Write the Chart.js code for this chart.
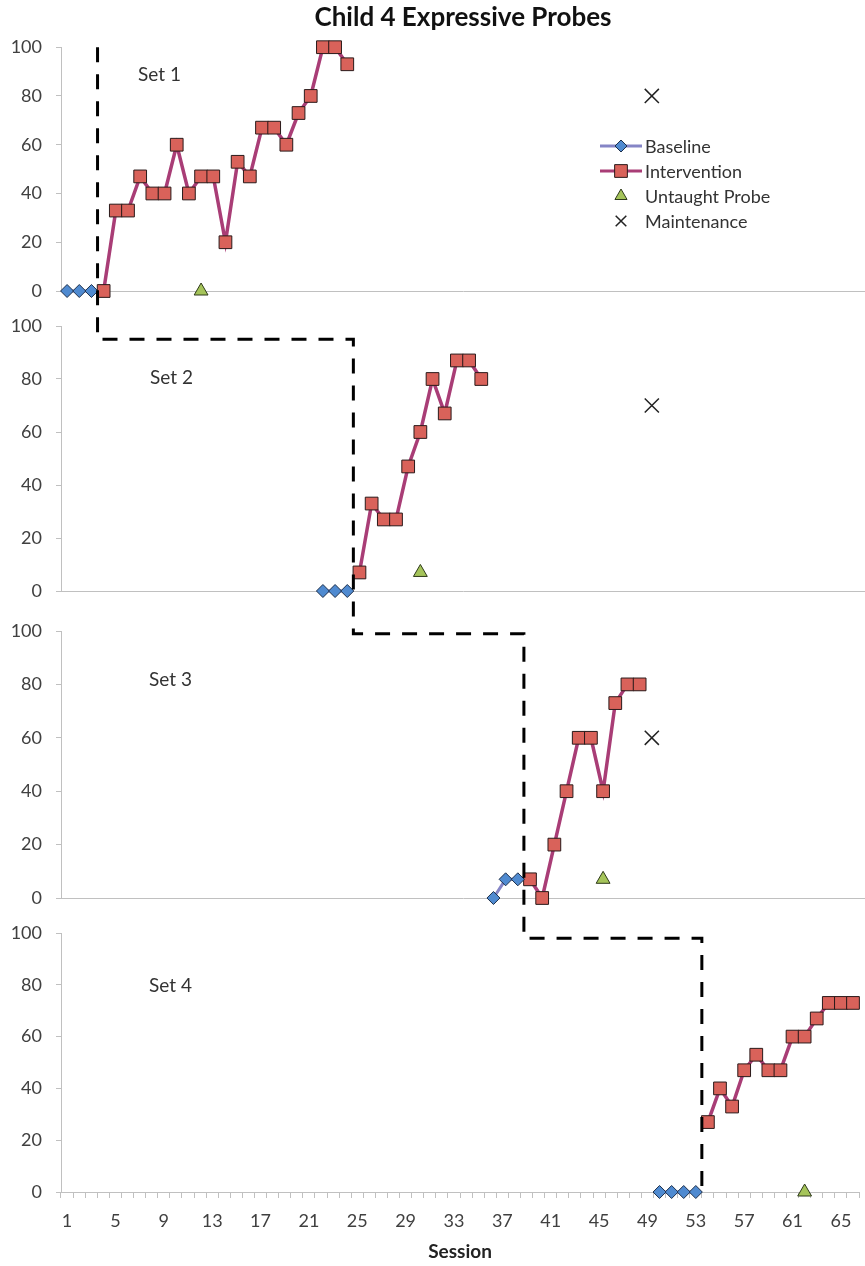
<!DOCTYPE html>
<html>
<head>
<meta charset="utf-8">
<title>Child 4 Expressive Probes</title>
<script src="https://cdn.jsdelivr.net/npm/chart.js@4.4.1/dist/chart.umd.min.js"></script>
<style>
  html, body { margin: 0; padding: 0; background: #fff; }
  #wrap { position: relative; width: 865px; height: 1266px; }
  #wrap canvas { position: absolute; left: 0; }
</style>
</head>
<body>
<div id="wrap">
  <canvas id="set1" width="865" height="310" style="top:0px"></canvas>
  <canvas id="set2" width="865" height="300" style="top:310px"></canvas>
  <canvas id="set3" width="865" height="300" style="top:610px"></canvas>
  <canvas id="set4" width="865" height="356" style="top:910px"></canvas>
  <canvas id="phase" width="865" height="1266" style="top:0px; pointer-events:none"></canvas>
</div>
<script>
// Sessions 1..66 on the x axis, a label every 4th session
const sessions = Array.from({ length: 66 }, (_, i) => String(i + 1));
const xTickLabels = ["1", "5", "9", "13", "17", "21", "25", "29", "33", "37", "41", "45", "49", "53", "57", "61", "65"];
const yTicks = [0, 20, 40, 60, 80, 100];

// Set 1
const set1BaselineSessions = [1, 2, 3];
const set1Baseline = [0, 0, 0];
const set1InterventionSessions = [4, 5, 6, 7, 8, 9, 10, 11, 12, 13, 14, 15, 16, 17, 18, 19, 20, 21, 22, 23, 24];
const set1Intervention = [0, 33, 33, 47, 40, 40, 60, 40, 47, 47, 20, 53, 47, 67, 67, 60, 73, 80, 100, 100, 93];
const set1ProbeSessions = [12];
const set1Probe = [0];
const set1MaintSessions = [49];
const set1Maint = [80];

// Set 2
const set2BaselineSessions = [22, 23, 24];
const set2Baseline = [0, 0, 0];
const set2InterventionSessions = [25, 26, 27, 28, 29, 30, 31, 32, 33, 34, 35];
const set2Intervention = [7, 33, 27, 27, 47, 60, 80, 67, 87, 87, 80];
const set2ProbeSessions = [30];
const set2Probe = [7];
const set2MaintSessions = [49];
const set2Maint = [70];

// Set 3
const set3BaselineSessions = [36, 37, 38];
const set3Baseline = [0, 7, 7];
const set3InterventionSessions = [39, 40, 41, 42, 43, 44, 45, 46, 47, 48];
const set3Intervention = [7, 0, 20, 40, 60, 60, 40, 73, 80, 80];
const set3ProbeSessions = [45];
const set3Probe = [7];
const set3MaintSessions = [49];
const set3Maint = [60];

// Set 4
const set4BaselineSessions = [50, 51, 52, 53];
const set4Baseline = [0, 0, 0, 0];
const set4InterventionSessions = [54, 55, 56, 57, 58, 59, 60, 61, 62, 63, 64, 65, 66];
const set4Intervention = [27, 40, 33, 47, 53, 47, 47, 60, 60, 67, 73, 73, 73];
const set4ProbeSessions = [62];
const set4Probe = [0];
const set4MaintSessions = [];
const set4Maint = [];

// phase change after these sessions, and the level of each step in the next panel
const phaseChangeAfter = [3, 24, 38, 53];
const phaseStepLevels = [95, 99, 98];

Chart.defaults.font.family = "Lato, 'Open Sans', sans-serif";
Chart.defaults.color = "#404040";

const styles = {
  baseline: { label: "Baseline", borderColor: "#8585c6", borderWidth: 3, pointStyle: "rectRot", pointRadius: 6.5,
    pointBackgroundColor: "#4f8ad0", pointBorderColor: "#1d2f4a", pointBorderWidth: 1 },
  intervention: { label: "Intervention", borderColor: "#a93d76", borderWidth: 3.5, pointStyle: "rect", pointRadius: 9,
    pointBackgroundColor: "#d9625a", pointBorderColor: "#2a1a1a", pointBorderWidth: 1 },
  probe: { label: "Untaught Probe", showLine: false, pointStyle: "triangle", pointRadius: 8,
    pointBackgroundColor: "#a5c45a", pointBorderColor: "#2e3a1a", pointBorderWidth: 1 },
  maint: { label: "Maintenance", showLine: false, pointStyle: "crossRot", pointRadius: 10,
    pointBorderColor: "#222", pointBorderWidth: 1.5 }
};

function pts(s, v) {
  return s.map((session, i) => ({ x: String(session), y: v[i] }));
}

// text label "Set n" inside each panel
const setLabelPlugin = {
  id: "setLabel",
  afterDraw(chart, args, opts) {
    const ctx = chart.ctx;
    ctx.save();
    ctx.font = "19px Lato";
    ctx.fillStyle = "#333";
    ctx.textBaseline = "middle";
    ctx.fillText(opts.text, opts.x, opts.y);
    ctx.restore();
  }
};

// legend drawn in the top panel like the original
const legendPlugin = {
  id: "insideLegend",
  afterDraw(chart, args, opts) {
    if (!opts.show) return;
    const ctx = chart.ctx;
    const rows = [
      { st: styles.baseline, line: true, r: 6 },
      { st: styles.intervention, line: true, r: 9 },
      { st: styles.probe, line: false, r: 7 },
      { st: styles.maint, line: false, r: 7.5 }
    ];
    ctx.save();
    rows.forEach((row, i) => {
      const y = opts.y + i * opts.step;
      if (row.line) {
        ctx.strokeStyle = row.st.borderColor;
        ctx.lineWidth = 3;
        ctx.beginPath();
        ctx.moveTo(opts.x - 21, y);
        ctx.lineTo(opts.x + 21, y);
        ctx.stroke();
      }
      ctx.fillStyle = row.st.pointBackgroundColor || "transparent";
      ctx.strokeStyle = row.st.pointBorderColor;
      ctx.lineWidth = row.st.pointBorderWidth;
      Chart.helpers.drawPoint(ctx, { pointStyle: row.st.pointStyle, radius: row.r, borderWidth: row.st.pointBorderWidth, rotation: 0 }, opts.x, y);
      ctx.fillStyle = "#333";
      ctx.font = "18px Lato";
      ctx.textBaseline = "middle";
      ctx.fillText(row.st.label, opts.x + 24, y + 1);
    });
    ctx.restore();
  }
};

function buildPanel(id, d, o) {
  const datasets = [
    Object.assign({ data: pts(d.bs, d.b), clip: false }, styles.baseline),
    Object.assign({ data: pts(d.is, d.i), clip: false }, styles.intervention),
    Object.assign({ data: pts(d.ps, d.p), clip: false }, styles.probe),
    Object.assign({ data: pts(d.ms, d.m), clip: false }, styles.maint)
  ];
  const xAxis = o.bottom ? {
    offset: true,
    ticks: {
      autoSkip: false, maxRotation: 0, padding: 12, font: { size: 18 }, color: "#404040",
      callback(v) { const l = this.getLabelForValue(v); return xTickLabels.includes(l) ? l : ""; }
    },
    grid: { display: true, drawOnChartArea: false, offset: true, tickLength: 6, color: "#c0c0c0" },
    border: { color: "#c0c0c0" },
    title: { display: true, text: "Session", font: { size: 19, weight: "bold" }, color: "#222", padding: { top: 0, bottom: 0 } },
    afterFit(s) { s.height = 71; }
  } : {
    offset: true,
    ticks: { display: false },
    grid: { display: false },
    border: { color: "#c0c0c0" },
    afterFit(s) { s.height = 0; }
  };
  return new Chart(document.getElementById(id), {
    type: "line",
    data: { labels: sessions, datasets: datasets },
    options: {
      responsive: false,
      animation: false,
      devicePixelRatio: 1,
      events: [],
      layout: { autoPadding: false, padding: { top: o.padTop, bottom: o.padBottom, left: 0, right: 0 } },
      scales: {
        x: xAxis,
        y: {
          min: 0, max: 100,
          afterBuildTicks(s) { s.ticks = yTicks.map(v => ({ value: v })); },
          ticks: { padding: 14, font: { size: 18 }, color: "#404040" },
          grid: { display: true, drawOnChartArea: false, tickLength: 5, color: "#c0c0c0" },
          border: { color: "#c0c0c0" },
          afterFit(s) { s.width = 61; s.paddingTop = 0; s.paddingBottom = 0; }
        }
      },
      plugins: {
        legend: { display: false },
        tooltip: { enabled: false },
        title: o.title ? {
          display: true, text: o.title, fullSize: false, color: "#111",
          font: { size: 26, weight: "bold" }, padding: { top: 2, bottom: 14 }
        } : { display: false },
        setLabel: o.setLabel,
        insideLegend: { show: !!o.legend, x: 621, y: 146, step: 25 }
      }
    },
    plugins: [setLabelPlugin, legendPlugin]
  });
}

const c1 = buildPanel("set1",
  { bs: set1BaselineSessions, b: set1Baseline, is: set1InterventionSessions, i: set1Intervention,
    ps: set1ProbeSessions, p: set1Probe, ms: set1MaintSessions, m: set1Maint },
  { title: "Child 4 Expressive Probes", padTop: 0, padBottom: 19, legend: true, setLabel: { text: "Set 1", x: 138, y: 75 } });
const c2 = buildPanel("set2",
  { bs: set2BaselineSessions, b: set2Baseline, is: set2InterventionSessions, i: set2Intervention,
    ps: set2ProbeSessions, p: set2Probe, ms: set2MaintSessions, m: set2Maint },
  { padTop: 16, padBottom: 19, setLabel: { text: "Set 2", x: 150, y: 68 } });
const c3 = buildPanel("set3",
  { bs: set3BaselineSessions, b: set3Baseline, is: set3InterventionSessions, i: set3Intervention,
    ps: set3ProbeSessions, p: set3Probe, ms: set3MaintSessions, m: set3Maint },
  { padTop: 21, padBottom: 12, setLabel: { text: "Set 3", x: 149, y: 70 } });
const c4 = buildPanel("set4",
  { bs: set4BaselineSessions, b: set4Baseline, is: set4InterventionSessions, i: set4Intervention,
    ps: set4ProbeSessions, p: set4Probe, ms: set4MaintSessions, m: set4Maint },
  { padTop: 23, padBottom: 3, bottom: true, setLabel: { text: "Set 4", x: 149, y: 76 } });

// dashed phase change line across the four panels
function drawPhaseLine() {
  const charts = [c1, c2, c3, c4];
  const tops = [0, 310, 610, 910];
  const ctx = document.getElementById("phase").getContext("2d");
  const bx = (i) => {
    const x = charts[i].scales.x;
    const after = phaseChangeAfter[i];
    return (x.getPixelForValue(after - 1) + x.getPixelForValue(after)) / 2;
  };
  const py = (i, v) => tops[i] + charts[i].scales.y.getPixelForValue(v);

  ctx.save();
  ctx.strokeStyle = "#000";
  ctx.lineWidth = 3;
  ctx.setLineDash([15, 12]);
  ctx.beginPath();
  ctx.moveTo(bx(0), py(0, 100));
  for (let i = 1; i < 4; i++) {
    const yStep = py(i, phaseStepLevels[i - 1]);
    ctx.lineTo(bx(i - 1), yStep);
    ctx.lineTo(bx(i), yStep);
  }
  ctx.lineTo(bx(3), py(3, 0));
  ctx.stroke();
  ctx.restore();
}
drawPhaseLine();
</script>
</body>
</html>
